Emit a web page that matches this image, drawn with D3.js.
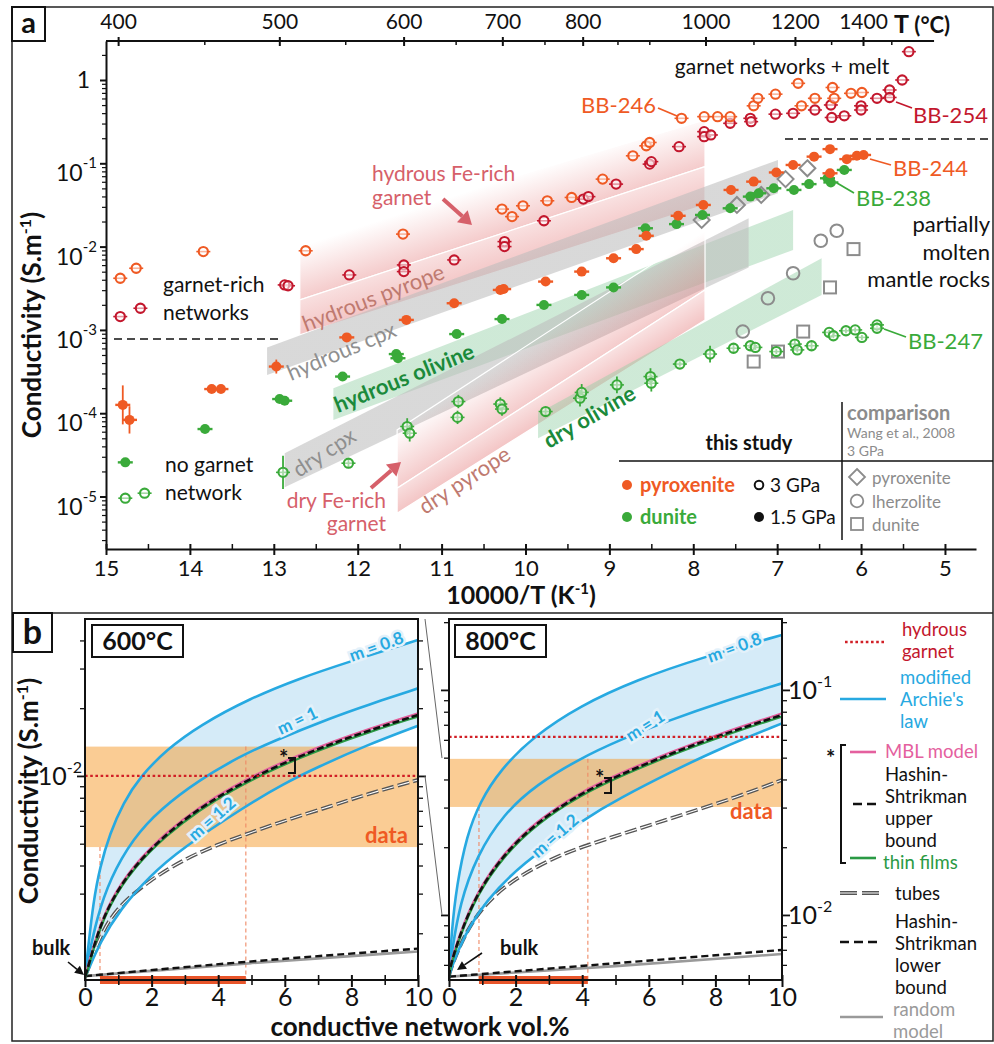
<!DOCTYPE html>
<html><head><meta charset="utf-8">
<script src="https://cdn.jsdelivr.net/npm/d3@7/dist/d3.min.js"></script>
<style>
html,body{margin:0;padding:0;background:#fff;}
svg{display:block;font-family:Lato,"Open Sans",sans-serif;}
</style></head><body>
<svg id="chart" width="994" height="1044"></svg>
<script>
// ================= PANEL a DATA =================
const topTempMajor = [400,500,600,700,800,1000,1200,1400];
const topTempMinor = [450,550,650,750,850,900,1100,1300,1500];
const invTTicks = [15,14,13,12,11,10,9,8,7,6,5];
const invTMinor = [14.5,13.5,12.5,11.5,10.5,9.5,8.5,7.5,6.5,5.5];
const condDecades = [1,1e-1,1e-2,1e-3,1e-4,1e-5];
const condDecadeExp = ["0","-1","-2","-3","-4","-5"];

// [10000/T (K^-1), log10 conductivity (S/m)]
const bb246 = [[14.83,-2.38],[14.64,-2.26],[13.84,-2.06],[12.62,-2.05],[11.46,-1.85],[10.28,-1.55],[10.16,-1.64],[10.03,-1.51],[9.74,-1.45],[9.45,-1.41],[9.08,-1.19],[8.72,-0.91],[8.56,-0.79],[8.52,-0.75],[8.14,-0.46],[7.87,-0.44],[7.71,-0.44],[7.56,-0.44],[7.28,-0.31],[7.23,-0.22],[7.02,-0.17],[6.75,-0.04],[6.71,-0.31],[6.55,-0.22],[6.34,-0.09],[6.32,-0.22],[6.12,-0.16],[5.99,-0.15]];
const bb254 = [[14.83,-2.84],[14.59,-2.74],[12.87,-2.46],[12.83,-2.47],[12.10,-2.34],[11.45,-2.22],[11.45,-2.30],[10.85,-2.16],[10.25,-1.94],[10.25,-2.00],[9.78,-1.69],[9.31,-1.43],[9.25,-1.40],[8.92,-1.25],[8.52,-1.01],[8.50,-0.98],[8.17,-0.80],[7.87,-0.62],[7.87,-0.68],[7.79,-0.66],[7.56,-0.52],[7.32,-0.46],[7.31,-0.50],[7.02,-0.41],[6.81,-0.40],[6.55,-0.36],[6.36,-0.30],[6.35,-0.45],[6.20,-0.43],[6.00,-0.31],[6.00,-0.36],[5.81,-0.22],[5.66,-0.12],[5.66,-0.21],[5.51,0.0],[5.43,0.34]];
// [10000/T, log10 sigma, log10 error]
const bb244 = [[14.80,-3.90,0.27],[14.72,-4.08,0.20],[13.74,-3.71,0.08],[13.63,-3.71,0.08],[12.97,-3.44,0.12],[12.13,-3.09,0.06],[11.42,-2.88,0.06],[10.85,-2.68,0.03],[10.30,-2.52,0.03],[10.26,-2.51,0.03],[9.76,-2.42,0.06],[9.33,-2.30,0.08],[8.95,-2.14,0.06],[8.68,-2.03,0.06],[8.56,-1.87,0.05],[8.18,-1.63,0.03],[7.88,-1.50,0.03],[7.55,-1.32,0.03],[7.28,-1.22,0.03],[7.01,-1.11,0.03],[6.81,-1.02,0.03],[6.56,-0.92,0.03],[6.37,-0.83,0.03],[6.37,-1.12,0.05],[6.17,-0.95,0.03],[6.05,-0.91,0.03],[5.97,-0.90,0.03]];
const bb238 = [[14.77,-4.59,0.03],[13.82,-4.19,0.04],[12.93,-3.83,0.04],[12.87,-3.85,0.04],[12.18,-3.56,0.05],[11.54,-3.29,0.06],[11.52,-3.34,0.06],[10.82,-3.05,0.06],[10.28,-2.87,0.06],[9.78,-2.70,0.05],[9.33,-2.58,0.07],[8.95,-2.49,0.05],[8.57,-1.78,0.05],[8.20,-1.73,0.05],[7.89,-1.62,0.04],[7.56,-1.54,0.04],[7.32,-1.40,0.05],[7.22,-1.36,0.04],[7.04,-1.30,0.04],[6.80,-1.32,0.05],[6.62,-1.25,0.04],[6.40,-1.18,0.04],[6.36,-1.23,0.05],[6.20,-1.08,0.04]];
const bb247 = [[14.77,-5.02,0],[14.54,-4.96,0],[12.89,-4.71,0.2],[12.11,-4.60,0.06],[11.41,-4.16,0.1],[11.38,-4.24,0.1],[10.80,-3.86,0.08],[10.81,-4.05,0.08],[10.30,-3.89,0.08],[10.28,-3.95,0.08],[9.76,-3.98,0.05],[9.35,-3.82,0.1],[9.33,-3.75,0.1],[8.91,-3.66,0.1],[8.51,-3.56,0.1],[8.50,-3.64,0.1],[8.16,-3.41,0.03],[7.80,-3.29,0.1],[7.52,-3.22,0.05],[7.32,-3.19,0.03],[7.26,-3.21,0.03],[7.01,-3.26,0.03],[6.79,-3.17,0.05],[6.76,-3.24,0.03],[6.59,-3.19,0.05],[6.38,-3.03,0.03],[6.33,-3.07,0.03],[6.18,-3.01,0.03],[6.07,-3.00,0.03],[5.99,-3.09,0.03],[5.81,-2.94,0.03],[5.81,-2.98,0.03]];
// Wang et al., 2008 (3 GPa)
const wangPyroxenite = [[7.90,-1.68],[7.48,-1.50],[7.19,-1.38],[6.90,-1.19],[6.64,-1.06]];
const wangLherzolite = [[7.41,-3.02],[7.11,-2.62],[6.81,-2.32],[6.48,-1.93],[6.29,-1.81]];
const wangDunite = [[7.28,-3.38],[6.99,-3.26],[6.69,-3.02],[6.37,-2.49],[6.09,-2.03]];

// literature bands: 10000/T range and log10 sigma at both ends
const bandNames = ["hydrous Fe-rich garnet","hydrous pyrope","hydrous cpx","hydrous olivine","dry cpx","dry Fe-rich garnet","dry pyrope","dry olivine"];
const bandInvT = [[12.69,7.86],[12.69,7.86],[13.08,6.99],[12.29,6.81],[12.87,7.34],[11.53,7.86],[11.53,7.86],[9.85,6.47]];
const bandLogLow = [[-2.64,-1.04],[-3.06,-1.50],[-3.54,-1.36],[-4.08,-2.04],[-4.89,-2.25],[-4.90,-2.52],[-5.20,-2.88],[-4.30,-2.58]];
const bandLogHigh = [[-1.92,-0.48],[-2.64,-1.04],[-3.21,-0.96],[-3.70,-1.56],[-4.48,-1.66],[-4.20,-1.80],[-4.90,-2.52],[-4.00,-2.14]];

// ================= PANEL b DATA =================
const volTicks = [0,2,4,6,8,10];
const volMinor = [1,3,5,7,9];
// [vol.%, sigma S/m]
const c600 = {
  arch08: [[0,0.00129],[0.1,0.00175],[0.25,0.00275],[0.45,0.00395],[0.75,0.00556],[1.15,0.0076],[1.65,0.0099],[2.45,0.0131],[3.45,0.0168],[4.95,0.0221],[6.46,0.0272],[7.86,0.0319],[10,0.0402]],
  arch1: [[0,0.00129],[0.1,0.00155],[0.35,0.00232],[0.75,0.0035],[1.45,0.0053],[2.25,0.0071],[3.45,0.00965],[4.65,0.0122],[5.56,0.0141],[7.46,0.0183],[8.46,0.0206],[10,0.0245]],
  hsu: [[0,0.00129],[0.07,0.00137],[0.35,0.00195],[0.75,0.00275],[1.45,0.00395],[2.45,0.00556],[3.45,0.0072],[4.45,0.00885],[5.46,0.01055],[6.46,0.01225],[7.46,0.014],[8.46,0.0158],[10,0.01866]],
  arch12: [[0,0.00129],[0.07,0.00134],[0.45,0.00182],[1.05,0.00255],[1.95,0.0036],[2.85,0.0047],[4.85,0.0074],[5.95,0.0092],[6.96,0.0109],[8.46,0.0137],[10,0.0167]],
  tubes: [[0,0.00129],[0.07,0.00135],[0.45,0.00195],[0.95,0.0026],[1.95,0.00345],[2.95,0.00424],[3.95,0.00494],[4.95,0.00558],[5.95,0.0063],[7.46,0.0074],[8.46,0.0083],[10,0.0096]],
  hsl: [[0,0.00129],[4.85,0.0015],[10,0.00171]],
  rand: [[0,0.00129],[5,0.00148],[10,0.00166]]
};
const c800 = {
  arch08: [[0,0.00532],[0.08,0.0085],[0.23,0.0135],[0.53,0.0225],[0.93,0.0318],[1.53,0.0440],[2.53,0.0620],[3.93,0.0850],[5.64,0.111],[7.64,0.140],[10,0.1755]],
  arch1: [[0,0.00532],[0.08,0.0068],[0.33,0.0113],[0.83,0.0183],[1.63,0.0280],[2.63,0.0380],[3.93,0.0495],[5.13,0.0600],[6.64,0.0735],[8.14,0.0880],[10,0.1070]],
  hsu: [[0,0.00532],[0.03,0.00589],[0.33,0.0082],[0.83,0.0124],[1.63,0.0185],[2.63,0.0258],[3.93,0.0345],[5.13,0.0420],[6.64,0.0520],[8.14,0.0630],[10,0.0774]],
  arch12: [[0,0.00532],[0.05,0.0057],[0.43,0.0080],[1.13,0.0117],[2.13,0.0166],[4.13,0.0272],[5.13,0.0330],[6.64,0.0430],[8.14,0.0550],[10,0.0710]],
  tubes: [[0,0.00532],[0.03,0.0057],[0.63,0.0094],[1.63,0.0136],[3.13,0.0180],[4.13,0.0204],[5.63,0.0240],[7.14,0.0283],[8.64,0.0334],[10,0.0398]],
  hsl: [[0,0.00532],[4.2,0.00597],[10,0.00699]],
  rand: [[0,0.00532],[5,0.0059],[10,0.00671]]
};
const dataBand600 = [0.00483, 0.0135], dataBand800 = [0.0302, 0.0494];
const hydGarnet600 = 0.01, hydGarnet800 = 0.0618;
const netRange600 = [0.45, 4.83], netRange800 = [0.9, 4.17];
const yDomain600 = [0.00124, 0.0498], yDomain800 = [0.00514, 0.2066];
const connectorValues = [0.0498, 0.01];

// ================= DRAW =================
const C = {orange:'#ef5a24', crimson:'#c3172d', green:'#3aaa3a', grey:'#8a8a8a', dkgreen:'#1b8a3b',
  rose:'#d6606a', roseBrown:'#bf7a70', blue:'#27a9e1', pink:'#e4609e', tfgreen:'#2a9a44', red:'#d11f26', black:'#111'};
const svg = d3.select('#chart');
const defs = svg.append('defs');

function T(g, x, y, s, o={}) {
  const t = g.append('text').attr('x',x).attr('y',y).text(s)
    .attr('font-size', o.size||20).attr('fill', o.color||C.black)
    .attr('font-weight', o.weight||'normal').attr('text-anchor', o.anchor||'start');
  if (o.rotate!=null) t.attr('transform',`rotate(${o.rotate},${x},${y})`);
  return t;
}
function supText(g, x, y, base, sup, after, o={}) {
  const t = g.append('text').attr('x',x).attr('y',y)
    .attr('font-size', o.size||22).attr('fill', o.color||C.black)
    .attr('font-weight', o.weight||'normal').attr('text-anchor', o.anchor||'start');
  if (o.rotate!=null) t.attr('transform',`rotate(${o.rotate},${x},${y})`);
  t.append('tspan').text(base);
  const ss = (o.supSize||Math.round((o.size||22)*0.62));
  const up = o.supUp||Math.round((o.size||22)*0.45);
  t.append('tspan').attr('dy',-up).attr('font-size',ss).text(sup);
  if (after) t.append('tspan').attr('dy',up).text(after);
  return t;
}
function arrow(g, x1,y1,x2,y2,color,w,hl,hw) {
  const a = Math.atan2(y2-y1,x2-x1), c=Math.cos(a), s=Math.sin(a);
  const bx = x2-c*hl, by = y2-s*hl;
  g.append('line').attr('x1',x1).attr('y1',y1).attr('x2',bx).attr('y2',by).attr('stroke',color).attr('stroke-width',w);
  g.append('path').attr('d',`M${x2},${y2}L${bx - s*hw},${by + c*hw}L${bx + s*hw},${by - c*hw}Z`).attr('fill',color);
}
function tickOnly(sel){ sel.select('.domain').remove(); sel.selectAll('.tick text').remove(); return sel; }

// ---- frames
const fr = svg.append('g').attr('fill','none').attr('stroke','#222').attr('stroke-width',1.5);
fr.append('rect').attr('x',12).attr('y',7).attr('width',981).attr('height',1034);
fr.append('line').attr('x1',12).attr('x2',993).attr('y1',613).attr('y2',613);
svg.append('rect').attr('x',12).attr('y',7).attr('width',33).attr('height',34).attr('fill','#fff').attr('stroke','#111').attr('stroke-width',2);
T(svg,28.5,33,'a',{size:29,weight:'bold',anchor:'middle'});
svg.append('rect').attr('x',13).attr('y',613).attr('width',39).attr('height',39).attr('fill','#fff').attr('stroke','#111').attr('stroke-width',2);
T(svg,32.5,644,'b',{size:34,weight:'bold',anchor:'middle'});

// ================= PANEL a =================
const gA = svg.append('g');
const xA = d3.scaleLinear().domain([15,4.63]).range([106,976]);
const yA = d3.scaleLog().domain([Math.pow(10,-5.63), Math.pow(10,0.468)]).range([549,41]);
const P = d => [xA(d[0]), yA(Math.pow(10,d[1]))];

// bands
const bandLook = {pink:'#e06666', grey:'#bdbdbd', green:'#93cfa5'};
const bandStyle = [['pink',0.34,0.0],['pink',0.38,0.2],['grey',0.58,0.58],['green',0.45,0.45],['grey',0.58,0.58],['pink',0.34,0.0],['pink',0.38,0.2],['green',0.45,0.45]];
const gBand = gA.append('g');
bandNames.forEach((nm,i)=>{
  const [v1,v2]=bandInvT[i], [lo1,lo2]=bandLogLow[i], [hi1,hi2]=bandLogHigh[i];
  const L1=P([v1,lo1]),L2=P([v2,lo2]),H1=P([v1,hi1]),H2=P([v2,hi2]);
  const lm=[(L1[0]+L2[0])/2,(L1[1]+L2[1])/2], hm=[(H1[0]+H2[0])/2,(H1[1]+H2[1])/2];
  const dx=L2[0]-L1[0], dy=L2[1]-L1[1], len=Math.hypot(dx,dy);
  const nx=-dy/len, ny=dx/len, t=(hm[0]-lm[0])*nx+(hm[1]-lm[1])*ny;
  const st=bandStyle[i], col=bandLook[st[0]];
  const gr=defs.append('linearGradient').attr('id','band'+i).attr('gradientUnits','userSpaceOnUse')
    .attr('x1',lm[0]).attr('y1',lm[1]).attr('x2',lm[0]+nx*t).attr('y2',lm[1]+ny*t);
  gr.append('stop').attr('offset',0).attr('stop-color',col).attr('stop-opacity',st[1]);
  gr.append('stop').attr('offset',1).attr('stop-color',col).attr('stop-opacity',st[2]);
  gBand.append('path').attr('d',d3.line()([L1,L2,H2,H1])+'Z').attr('fill',`url(#band${i})`)
    .attr('stroke', st[0]==='pink'?'#fff':'none').attr('stroke-width',1.2);
});

// axes
const axBot = gA.append('g').attr('transform','translate(0,549)')
  .call(d3.axisBottom(xA).tickValues(invTTicks).tickSize(6).tickSizeOuter(0).tickPadding(5).tickFormat(d3.format('d')));
axBot.select('.domain').attr('stroke','#111').attr('stroke-width',2);
axBot.selectAll('.tick line').attr('y1',-5).attr('stroke','#111').attr('stroke-width',2);
axBot.selectAll('.tick text').attr('font-size',22).attr('fill','#111').attr('font-family','Lato');
const axBotMin = tickOnly(gA.append('g').attr('transform','translate(0,549)')
  .call(d3.axisBottom(xA).tickValues(invTMinor).tickSize(-5).tickSizeOuter(0).tickFormat('')));
axBotMin.selectAll('.tick line').attr('stroke','#111').attr('stroke-width',1.5);

const invFromT = t => 10000/(t+273.15);
const axTop = gA.append('g').attr('transform','translate(0,41)')
  .call(d3.axisTop(xA).tickValues(topTempMajor.map(invFromT)).tickSize(4).tickPadding(8).tickFormat((d,i)=>topTempMajor[i]));
axTop.select('.domain').remove();
axTop.selectAll('.tick line').attr('y2',-4).attr('y1',5).attr('stroke','#111').attr('stroke-width',2);
axTop.selectAll('.tick text').attr('font-size',21).attr('fill','#111').attr('font-family','Lato');
const axTopMin = tickOnly(gA.append('g').attr('transform','translate(0,41)')
  .call(d3.axisTop(xA).tickValues(topTempMinor.map(invFromT)).tickSize(-4).tickFormat('')));
axTopMin.selectAll('.tick line').attr('stroke','#111').attr('stroke-width',1.5);
gA.append('line').attr('x1',xA(15)).attr('x2',xA(5.13)).attr('y1',41).attr('y2',41).attr('stroke','#111').attr('stroke-width',2.2);
const tl = gA.append('text').attr('x',894).attr('y',33).attr('font-size',22).attr('fill','#111');
tl.append('tspan').attr('font-weight','bold').attr('font-size',25).text('T');
tl.append('tspan').attr('font-weight','bold').text(' (°C)');

const axLeft = gA.append('g').attr('transform','translate(106,0)')
  .call(d3.axisLeft(yA).tickValues(condDecades).tickSize(6).tickSizeOuter(0).tickFormat(''));
axLeft.selectAll('.tick text').remove();
axLeft.select('.domain').attr('stroke','#111').attr('stroke-width',2);
axLeft.selectAll('.tick line').attr('stroke','#111').attr('stroke-width',2);
const condMinor = [];
[-6,-5,-4,-3,-2,-1,0].forEach(e=>{for(let k=2;k<=9;k++){const v=k*Math.pow(10,e); if(v>yA.domain()[0]&&v<yA.domain()[1]) condMinor.push(v);}});
const axLeftMin = tickOnly(gA.append('g').attr('transform','translate(106,0)')
  .call(d3.axisLeft(yA).tickValues(condMinor).tickSize(4).tickFormat('')));
axLeftMin.selectAll('.tick line').attr('stroke','#111').attr('stroke-width',1.2);
condDecades.forEach((v,i)=>{
  if (condDecadeExp[i]==='0') T(gA,90,yA(v)+8,'1',{size:23,anchor:'end'});
  else supText(gA,97,yA(v)+18,'10',condDecadeExp[i],null,{size:23,supSize:15,supUp:13,anchor:'end'});
});
supText(gA,41,325,'Conductivity (S.m','-1',')',{size:26,weight:'bold',rotate:-90,anchor:'middle',supSize:16,supUp:10});
supText(gA,521,604,'10000/T (K','-1',')',{size:25,weight:'bold',anchor:'middle',supSize:15,supUp:10});

// dashed separators
gA.append('line').attr('x1',114).attr('x2',278).attr('y1',339).attr('y2',339).attr('stroke','#111').attr('stroke-width',1.5).attr('stroke-dasharray','8,5');
gA.append('line').attr('x1',785).attr('x2',992).attr('y1',139).attr('y2',139).attr('stroke','#111').attr('stroke-width',1.5).attr('stroke-dasharray','8,5');

// band labels
T(gA,372,181,'hydrous Fe-rich',{size:21,color:C.rose});
T(gA,372,205,'garnet',{size:21,color:C.rose});
arrow(gA,443,199,472,225,'#d6606a',4,13,8);
T(gA,306,332,'hydrous pyrope',{size:22,color:C.roseBrown,rotate:-21});
T(gA,291,381,'hydrous cpx',{size:22,color:'#8f8f8f',rotate:-23});
T(gA,338,413,'hydrous olivine',{size:22,color:C.dkgreen,weight:'bold',rotate:-22});
T(gA,299,478,'dry cpx',{size:22,color:'#8f8f8f',rotate:-33});
T(gA,386,508,'dry Fe-rich',{size:21,color:C.rose,anchor:'end'});
T(gA,386,531,'garnet',{size:21,color:C.rose,anchor:'end'});
arrow(gA,371,488,401,462,'#d6606a',4,13,8);
T(gA,425,515,'dry pyrope',{size:22,color:C.roseBrown,rotate:-33});
T(gA,549,449,'dry olivine',{size:22,color:C.dkgreen,weight:'bold',rotate:-30});

// data points
const gPts = gA.append('g');
function openPts(data,color,err){
  const g=gPts.append('g');
  if (err) g.selectAll('line.v').data(data.filter(d=>d[2]>0)).join('line').attr('class','v')
    .attr('x1',d=>P(d)[0]).attr('x2',d=>P(d)[0])
    .attr('y1',d=>yA(Math.pow(10,d[1]-d[2]))).attr('y2',d=>yA(Math.pow(10,d[1]+d[2])))
    .attr('stroke',color).attr('stroke-width',1.8);
  g.selectAll('line.h').data(data).join('line').attr('class','h')
    .attr('x1',d=>P(d)[0]-7).attr('x2',d=>P(d)[0]+7).attr('y1',d=>P(d)[1]).attr('y2',d=>P(d)[1])
    .attr('stroke',color).attr('stroke-width',1.6);
  g.selectAll('circle').data(data).join('circle')
    .attr('cx',d=>P(d)[0]).attr('cy',d=>P(d)[1]).attr('r',4.6)
    .attr('fill','#fff').attr('fill-opacity',0.55).attr('stroke',color).attr('stroke-width',2.1);
}
function filledPts(data,color){
  const g=gPts.append('g');
  g.selectAll('line.v').data(data).join('line').attr('class','v')
    .attr('x1',d=>P(d)[0]).attr('x2',d=>P(d)[0])
    .attr('y1',d=>yA(Math.pow(10,d[1]-d[2]))-3).attr('y2',d=>yA(Math.pow(10,d[1]+d[2]))+3)
    .attr('stroke',color).attr('stroke-width',1.8);
  g.selectAll('line.h').data(data).join('line').attr('class','h')
    .attr('x1',d=>P(d)[0]-7.5).attr('x2',d=>P(d)[0]+7.5).attr('y1',d=>P(d)[1]).attr('y2',d=>P(d)[1])
    .attr('stroke',color).attr('stroke-width',2.4);
  g.selectAll('circle').data(data).join('circle')
    .attr('cx',d=>P(d)[0]).attr('cy',d=>P(d)[1]).attr('r',5).attr('fill',color);
}
// Wang comparison
const gW = gPts.append('g').attr('fill','none').attr('stroke','#8c8c8c').attr('stroke-width',2);
gW.selectAll('path.d').data(wangPyroxenite).join('path').attr('class','d')
  .attr('d',d=>{const [x,y]=P(d);return `M${x},${y-8}L${x+8},${y}L${x},${y+8}L${x-8},${y}Z`;});
gW.selectAll('circle').data(wangLherzolite).join('circle').attr('cx',d=>P(d)[0]).attr('cy',d=>P(d)[1]).attr('r',6.3);
gW.selectAll('rect').data(wangDunite).join('rect').attr('x',d=>P(d)[0]-6).attr('y',d=>P(d)[1]-6).attr('width',12).attr('height',12);

openPts(bb247,C.green,true);
filledPts(bb238,C.green);
filledPts(bb244,C.orange);
openPts(bb254,C.crimson,false);
openPts(bb246,C.orange,false);

// sample labels
const gLab = gA.append('g');
function leader(x1,y1,x2,y2,color){gLab.append('line').attr('x1',x1).attr('y1',y1).attr('x2',x2).attr('y2',y2).attr('stroke',color).attr('stroke-width',1.8);}
T(gLab,656,113,'BB-246',{size:22,color:C.orange,anchor:'end'}); leader(658,108,677,116,C.orange);
T(gLab,913,123,'BB-254',{size:22,color:C.crimson}); leader(896,102,912,108,C.crimson);
T(gLab,893,176,'BB-244',{size:22,color:C.orange}); leader(870,159,891,165,C.orange);
T(gLab,856,206,'BB-238',{size:22,color:C.green}); leader(837,183,854,193,C.green);
T(gLab,908,349,'BB-247',{size:22,color:C.green}); leader(884,329,906,337,C.green);

T(gLab,782,74,'garnet networks + melt',{size:21,anchor:'middle'});
T(gLab,990,232,'partially',{size:22,anchor:'end'});
T(gLab,990,260,'molten',{size:22,anchor:'end'});
T(gLab,990,287,'mantle rocks',{size:22,anchor:'end'});
T(gLab,163,292,'garnet-rich',{size:21});
T(gLab,163,320,'networks',{size:21});
T(gLab,165,472,'no garnet',{size:21});
T(gLab,165,500,'network',{size:21});

// legend a
const gLeg = gA.append('g');
T(gLeg,749,450,'this study',{size:20,weight:'bold',anchor:'middle'});
gLeg.append('line').attr('x1',619).attr('x2',993).attr('y1',461).attr('y2',461).attr('stroke','#111').attr('stroke-width',1.5);
gLeg.append('line').attr('x1',842).attr('x2',842).attr('y1',402).attr('y2',540).attr('stroke','#111').attr('stroke-width',1.5);
T(gLeg,847,420,'comparison',{size:20,weight:'bold',color:'#8c8c8c'});
T(gLeg,847,438,'Wang et al., 2008',{size:14,color:'#8c8c8c'});
T(gLeg,847,456,'3 GPa',{size:14,color:'#8c8c8c'});
gLeg.append('circle').attr('cx',627).attr('cy',485).attr('r',5).attr('fill',C.orange);
T(gLeg,640,492,'pyroxenite',{size:20,weight:'bold',color:C.orange});
gLeg.append('circle').attr('cx',627).attr('cy',517).attr('r',5).attr('fill',C.green);
T(gLeg,640,524,'dunite',{size:20,weight:'bold',color:C.green});
gLeg.append('circle').attr('cx',759).attr('cy',485).attr('r',4.3).attr('fill','none').attr('stroke','#111').attr('stroke-width',2);
T(gLeg,770,492,'3 GPa',{size:19});
gLeg.append('circle').attr('cx',759).attr('cy',517).attr('r',5).attr('fill','#111');
T(gLeg,770,524,'1.5 GPa',{size:19});
gLeg.append('path').attr('d','M857,469L865,477L857,485L849,477Z').attr('fill','none').attr('stroke','#8c8c8c').attr('stroke-width',1.8);
T(gLeg,872,484,'pyroxenite',{size:17,color:'#8c8c8c'});
gLeg.append('circle').attr('cx',857).attr('cy',501).attr('r',6.3).attr('fill','none').attr('stroke','#8c8c8c').attr('stroke-width',1.8);
T(gLeg,872,508,'lherzolite',{size:17,color:'#8c8c8c'});
gLeg.append('rect').attr('x',851).attr('y',518).attr('width',12).attr('height',12).attr('fill','none').attr('stroke','#8c8c8c').attr('stroke-width',1.8);
T(gLeg,872,531,'dunite',{size:17,color:'#8c8c8c'});

// ================= PANEL b =================
const gB = svg.append('g');
const xL = d3.scaleLinear().domain([0,10]).range([85,418]);
const yL = d3.scaleLog().domain(yDomain600).range([980,619]);
const xR = d3.scaleLinear().domain([0,10]).range([449,782]);
const yR = d3.scaleLog().domain(yDomain800).range([980,619]);

function logTicks(dom){const out=[];for(let e=-4;e<=0;e++)for(let k=1;k<=9;k++){const v=k*Math.pow(10,e);if(v>=dom[0]&&v<=dom[1])out.push(v);}return out;}

function subplot(xS,yS,cv,band,hg,net,id,opt){
  const g=gB.append('g');
  const [x0,x1]=xS.range(), [yb,yt]=yS.range();
  defs.append('clipPath').attr('id','clip'+id).append('rect').attr('x',x0).attr('y',yt).attr('width',x1-x0).attr('height',yb-yt);
  const gc=g.append('g').attr('clip-path',`url(#clip${id})`);
  const line=d3.line().x(d=>xS(d[0])).y(d=>yS(d[1])).curve(d3.curveBasis);
  // Archie envelope fill
  const up=line(cv.arch08), lo=line(cv.arch12.slice().reverse());
  gc.append('path').attr('d',up+'L'+lo.slice(1)+'Z').attr('fill','#d5ebf8');
  // data band
  gc.append('rect').attr('x',x0).attr('width',x1-x0).attr('y',yS(band[1])).attr('height',yS(band[0])-yS(band[1]))
    .attr('fill','#f5a33d').attr('fill-opacity',0.55);
  // network range guides
  [[net[0],band[0]],[net[1],band[1]]].forEach(([v,top])=>{
    gc.append('line').attr('x1',xS(v)).attr('x2',xS(v)).attr('y1',yS(top)).attr('y2',yb)
      .attr('stroke','#ef8a66').attr('stroke-width',1.1).attr('stroke-dasharray','4,3');
  });
  // curves
  gc.append('path').attr('d',line(cv.rand)).attr('fill','none').attr('stroke','#9a9a9a').attr('stroke-width',2.6);
  gc.append('path').attr('d',line(cv.hsl)).attr('fill','none').attr('stroke','#111').attr('stroke-width',2.4).attr('stroke-dasharray','7,4');
  gc.append('path').attr('d',line(cv.tubes)).attr('fill','none').attr('stroke','#555').attr('stroke-width',3.8).attr('stroke-dasharray','12,4');
  gc.append('path').attr('d',line(cv.tubes)).attr('fill','none').attr('stroke','#fff').attr('stroke-width',1.1).attr('stroke-dasharray','12,4');
  ['arch08','arch1','arch12'].forEach(k=>gc.append('path').attr('d',line(cv[k])).attr('fill','none').attr('stroke',C.blue).attr('stroke-width',2.6));
  gc.append('path').attr('d',line(cv.hsu)).attr('fill','none').attr('stroke',C.pink).attr('stroke-width',2.2).attr('transform','translate(0,-1.6)');
  gc.append('path').attr('d',line(cv.hsu)).attr('fill','none').attr('stroke',C.tfgreen).attr('stroke-width',2.2).attr('transform','translate(0,1.6)');
  gc.append('path').attr('d',line(cv.hsu)).attr('fill','none').attr('stroke','#111').attr('stroke-width',2.6).attr('stroke-dasharray','7,3');
  // hydrous garnet
  gc.append('line').attr('x1',x0).attr('x2',x1).attr('y1',yS(hg)).attr('y2',yS(hg)).attr('stroke',C.red).attr('stroke-width',2.3).attr('stroke-dasharray','2.6,2.6');
  // network bar
  g.append('rect').attr('x',xS(net[0])).attr('width',xS(net[1])-xS(net[0])).attr('y',yb-4).attr('height',8).attr('fill','#e8552a');
  // box
  g.append('rect').attr('x',x0).attr('y',yt).attr('width',x1-x0).attr('height',yb-yt).attr('fill','none').attr('stroke','#111').attr('stroke-width',2);
  // x axis
  const ax=g.append('g').attr('transform',`translate(0,${yb})`)
    .call(d3.axisBottom(xS).tickValues(volTicks).tickSize(7).tickSizeOuter(0).tickPadding(1).tickFormat(d3.format('d')));
  ax.select('.domain').remove();
  ax.selectAll('.tick line').attr('y1',-5).attr('stroke','#111').attr('stroke-width',2);
  ax.selectAll('.tick text').attr('font-size',25).attr('fill','#111').attr('font-family','Lato');
  const axm=tickOnly(g.append('g').attr('transform',`translate(0,${yb})`)
    .call(d3.axisBottom(xS).tickValues(volMinor).tickSize(5).tickFormat('')));
  axm.selectAll('.tick line').attr('y1',-5).attr('stroke','#111').attr('stroke-width',1.6);
  // y ticks both sides
  const ticks=logTicks(yS.domain());
  const maj=ticks.filter(v=>Math.abs(Math.log10(v)-Math.round(Math.log10(v)))<1e-9), mnr=ticks.filter(v=>!maj.includes(v));
  [[d3.axisLeft,x0],[d3.axisRight,x1]].forEach(([fn,xp])=>{
    const a1=tickOnly(g.append('g').attr('transform',`translate(${xp},0)`).call(fn(yS).tickValues(maj).tickSize(8).tickSizeOuter(0).tickFormat('')));
    a1.selectAll('.tick line').attr('stroke','#111').attr('stroke-width',1.8);
    const a2=tickOnly(g.append('g').attr('transform',`translate(${xp},0)`).call(fn(yS).tickValues(mnr).tickSize(5).tickSizeOuter(0).tickFormat('')));
    a2.selectAll('.tick line').attr('stroke','#111').attr('stroke-width',1.3);
  });
  // temperature box
  g.append('rect').attr('x',opt.boxX).attr('y',625).attr('width',91).attr('height',32).attr('fill','#fff').attr('stroke','#111').attr('stroke-width',2);
  T(g,opt.boxX+45.5,650,opt.label,{size:25,weight:'bold',anchor:'middle'});
  T(g,opt.dataX,opt.dataY,'data',{size:22,weight:'bold',color:'#ef5a24'});
  // m labels
  opt.m.forEach(([s,x,y,r])=>{
    T(g,x,y,s,{size:17,weight:'bold',color:C.blue,anchor:'middle',rotate:r})
      .attr('stroke','#e3f1fa').attr('stroke-width',5).attr('paint-order','stroke').attr('dominant-baseline','middle');
  });
  // star bracket
  T(g,opt.star[0],opt.star[1],'*',{size:22,weight:'bold'});
  g.append('path').attr('d',`M${opt.star[0]+9},${opt.star[1]-8}H${opt.star[0]+16}V${opt.star[1]+7}H${opt.star[0]+9}`).attr('fill','none').attr('stroke','#111').attr('stroke-width',2);
  // bulk
  T(g,opt.bulk[0],opt.bulk[1],'bulk',{size:20,weight:'bold'});
  arrow(g,opt.bulkArrow[0],opt.bulkArrow[1],opt.bulkArrow[2],opt.bulkArrow[3],'#111',1.6,9,4.5);
  return g;
}
subplot(xL,yL,c600,dataBand600,hydGarnet600,netRange600,'L',{boxX:92,label:'600°C',dataX:365,dataY:843,
  m:[['m = 0.8',377,648,-20],['m = 1',298,722,-25],['m = 1.2',213,820,-41]],star:[279,766],bulk:[32,955],bulkArrow:[68,962,84,975]});
subplot(xR,yR,c800,dataBand800,hydGarnet800,netRange800,'R',{boxX:455,label:'800°C',dataX:730,dataY:819,
  m:[['m = 0.8',735,649,-20],['m = 1',646,727,-32],['m = 1.2',556,837,-41]],star:[595,786],bulk:[500,955],bulkArrow:[482,953,457,970]});

// left 10^-2 label & right labels
supText(gB,82,yL(0.01)+9,'10','-2',null,{size:25,anchor:'end',supSize:16,supUp:12});
supText(gB,788,yR(0.1)+9,'10','-1',null,{size:25,supSize:16,supUp:12});
supText(gB,788,yR(0.01)+9,'10','-2',null,{size:25,supSize:16,supUp:12});
// connectors between subplots
connectorValues.forEach(v=>{
  gB.append('line').attr('x1',425).attr('y1',yL(v)).attr('x2',442).attr('y2',yR(v)).attr('stroke','#666').attr('stroke-width',1);
});
supText(gB,38,791,'Conductivity (S.m','-1',')',{size:26,weight:'bold',rotate:-90,anchor:'middle',supSize:16,supUp:10});
T(gB,420,1036,'conductive network vol.%',{size:26,weight:'bold',anchor:'middle'});

// legend b
const gLB = gB.append('g');
function lg(x1,x2,y,stroke,w,dash){gLB.append('line').attr('x1',x1).attr('x2',x2).attr('y1',y).attr('y2',y).attr('stroke',stroke).attr('stroke-width',w).attr('stroke-dasharray',dash||null);}
const LS = 18.5;
lg(845,886,642,C.red,2.3,'2.6,2.6');
T(gLB,902,636,'hydrous',{size:LS,color:C.crimson}); T(gLB,902,658,'garnet',{size:LS,color:C.crimson});
lg(840,886,699,C.blue,2.6);
T(gLB,900,684,'modified',{size:LS,color:C.blue}); T(gLB,900,706,"Archie's",{size:LS,color:C.blue}); T(gLB,900,728,'law',{size:LS,color:C.blue});
T(gLB,826,766,'*',{size:22,weight:'bold'});
gLB.append('path').attr('d','M846,745H841V863H846').attr('fill','none').attr('stroke','#111').attr('stroke-width',2);
lg(850,876,752,C.pink,2.6); T(gLB,885,758,'MBL model',{size:LS,color:C.pink});
lg(853,880,804,'#111',2.6,'9,5');
T(gLB,885,781,'Hashin-',{size:LS}); T(gLB,885,803,'Shtrikman',{size:LS}); T(gLB,885,825,'upper',{size:LS}); T(gLB,885,847,'bound',{size:LS});
lg(850,876,858,C.tfgreen,2.6); T(gLB,883,869,'thin films',{size:LS,color:C.tfgreen});
lg(840,882,893,'#555',3.8,'17,5'); lg(840,882,893,'#fff',1.1,'17,5');
T(gLB,895,900,'tubes',{size:LS});
lg(840,882,942,'#111',2.6,'9,5');
T(gLB,895,928,'Hashin-',{size:LS}); T(gLB,895,950,'Shtrikman',{size:LS}); T(gLB,895,972,'lower',{size:LS}); T(gLB,895,994,'bound',{size:LS});
lg(840,883,1017,'#9a9a9a',2.6);
T(gLB,893,1016,'random',{size:LS,color:'#9a9a9a'}); T(gLB,893,1038,'model',{size:LS,color:'#9a9a9a'});
</script></body></html>
